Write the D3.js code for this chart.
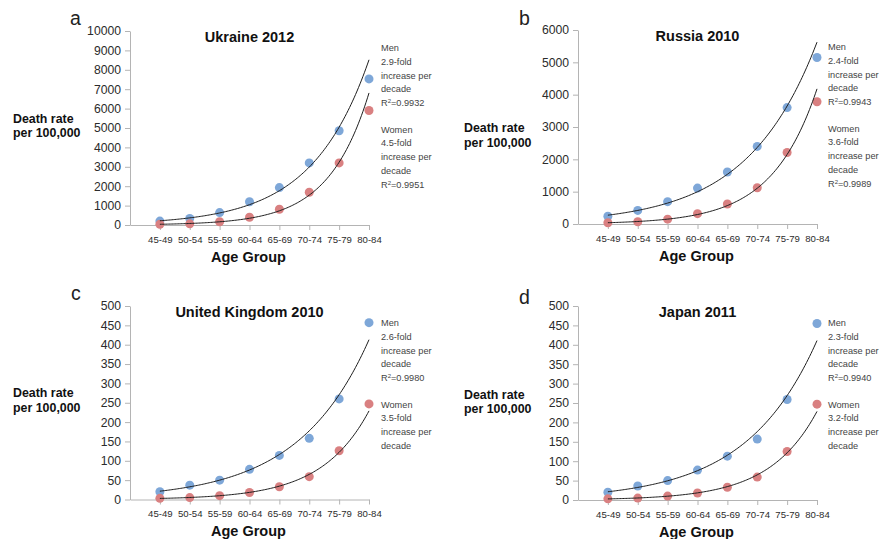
<!DOCTYPE html>
<html>
<head>
<meta charset="utf-8">
<script src="https://cdn.jsdelivr.net/npm/d3@7"></script>
<style>
  html, body { margin: 0; padding: 0; background: #fff; }
  svg { display: block; font-family: "Liberation Sans", Arial, Helvetica, sans-serif; }
</style>
</head>
<body>
<svg id="chart" width="880" height="539"></svg>
<script>
// Age groups on the horizontal axis
const categories = ["45-49", "50-54", "55-59", "60-64", "65-69", "70-74", "75-79", "80-84"];

// Death rates per 100,000 by age group
const ukraineMen   = [200, 340, 640, 1200, 1930, 3200, 4860, 7530];
const ukraineWomen = [40, 60, 170, 400, 810, 1690, 3200, 5900];
const russiaMen    = [240, 420, 690, 1110, 1610, 2400, 3600, 5150];
const russiaWomen  = [40, 70, 150, 320, 620, 1120, 2210, 3780];
const ukMen        = [20, 37, 50, 78, 114, 158, 260, 457];
const ukWomen      = [3, 5, 10, 18, 33, 59, 126, 247];
const japanMen     = [20, 36, 50, 77, 113, 157, 259, 455];
const japanWomen   = [3, 5, 10, 18, 33, 59, 125, 247];

// Vertical axis tick values
const ukraineTicks = [0, 1000, 2000, 3000, 4000, 5000, 6000, 7000, 8000, 9000, 10000];
const russiaTicks  = [0, 1000, 2000, 3000, 4000, 5000, 6000];
const ukTicks      = [0, 50, 100, 150, 200, 250, 300, 350, 400, 450, 500];
const japanTicks   = [0, 50, 100, 150, 200, 250, 300, 350, 400, 450, 500];

// Trend annotations (fold increase per decade, R²)
const ukraineMenNote   = { label: "Men",   fold: "2.9-fold", r2: "0.9932" };
const ukraineWomenNote = { label: "Women", fold: "4.5-fold", r2: "0.9951" };
const russiaMenNote    = { label: "Men",   fold: "2.4-fold", r2: "0.9943" };
const russiaWomenNote  = { label: "Women", fold: "3.6-fold", r2: "0.9989" };
const ukMenNote        = { label: "Men",   fold: "2.6-fold", r2: "0.9980" };
const ukWomenNote      = { label: "Women", fold: "3.5-fold", r2: null };
const japanMenNote     = { label: "Men",   fold: "2.3-fold", r2: "0.9940" };
const japanWomenNote   = { label: "Women", fold: "3.2-fold", r2: null };

// Panel layout
const panels = [
  { letter: "a", title: "Ukraine 2012", men: ukraineMen, women: ukraineWomen, ticks: ukraineTicks,
    menNote: ukraineMenNote, womenNote: ukraineWomenNote,
    frame: { x0: 130, x1: 369, top: 31, bottom: 225 }, letterAt: [70, 25], ylab: [13, 87.5], noteDx: 12 },
  { letter: "b", title: "Russia 2010", men: russiaMen, women: russiaWomen, ticks: russiaTicks,
    menNote: russiaMenNote, womenNote: russiaWomenNote,
    frame: { x0: 578, x1: 817, top: 30, bottom: 224 }, letterAt: [519, 25], ylab: [464, 97.7], noteDx: 11 },
  { letter: "c", title: "United Kingdom 2010", men: ukMen, women: ukWomen, ticks: ukTicks,
    menNote: ukMenNote, womenNote: ukWomenNote,
    frame: { x0: 130, x1: 369, top: 306, bottom: 499.5 }, letterAt: [71, 299.5], ylab: [13, 87], noteDx: 12 },
  { letter: "d", title: "Japan 2011", men: japanMen, women: japanWomen, ticks: japanTicks,
    menNote: japanMenNote, womenNote: japanWomenNote,
    frame: { x0: 578, x1: 817, top: 306, bottom: 500 }, letterAt: [519, 304], ylab: [464, 88.3], noteDx: 11 }
];

const menColor = "#7ea7d8";
const womenColor = "#d98081";
const axisColor = "#b4b4b4";
const textColor = "#2b2b2b";
const noteSize = 9.2;

// Least-squares exponential fit: ln(y) = a + b * index
function expFit(values) {
  const xs = values.map((_, i) => i);
  const ls = values.map(v => Math.log(v));
  const mx = d3.mean(xs), ml = d3.mean(ls);
  const sxy = d3.sum(xs, (xv, i) => (xv - mx) * (ls[i] - ml));
  const sxx = d3.sum(xs, xv => (xv - mx) * (xv - mx));
  const b = sxy / sxx;
  return { a: ml - b * mx, b };
}

const svg = d3.select("#chart");

panels.forEach(p => {
  const f = p.frame;
  const g = svg.append("g");
  const n = categories.length;

  const x = d3.scaleLinear().domain([0, n]).range([f.x0, f.x1]);
  const y = d3.scaleLinear().domain([0, d3.max(p.ticks)]).range([f.bottom, f.top]);
  const px = i => x(i + 1);

  // Y axis
  const ya = g.append("g")
    .attr("transform", `translate(${f.x0},0)`)
    .call(d3.axisLeft(y).tickValues(p.ticks).tickFormat(d3.format("d"))
      .tickSize(5).tickSizeOuter(0).tickPadding(4));
  ya.select(".domain").attr("stroke", axisColor);
  ya.selectAll(".tick line").attr("stroke", axisColor);
  ya.selectAll(".tick text").attr("font-size", 12.2).attr("fill", textColor)
    .attr("font-family", "Liberation Sans, Arial, sans-serif");

  // X axis
  const xa = g.append("g")
    .attr("transform", `translate(0,${f.bottom})`)
    .call(d3.axisBottom(x)
      .tickValues(d3.range(1, n + 1))
      .tickFormat(i => categories[i - 1])
      .tickSize(5).tickSizeOuter(0).tickPadding(6));
  xa.select(".domain").attr("stroke", axisColor);
  xa.selectAll(".tick line").attr("stroke", axisColor);
  xa.selectAll(".tick text").attr("font-size", 9.6).attr("fill", textColor)
    .attr("font-family", "Liberation Sans, Arial, sans-serif");

  // Points
  [[p.men, menColor], [p.women, womenColor]].forEach(([vals, col]) => {
    g.append("g").selectAll("circle").data(vals).join("circle")
      .attr("cx", (d, i) => px(i))
      .attr("cy", d => y(d))
      .attr("r", 4.5)
      .attr("fill", col);
  });

  // Exponential trend curves
  const steps = d3.range(0, n - 1 + 1e-9, 0.05);
  [p.men, p.women].forEach(vals => {
    const fit = expFit(vals);
    const line = d3.line()
      .x(t => x(t + 1))
      .y(t => y(Math.exp(fit.a + fit.b * t)));
    g.append("path").datum(steps)
      .attr("d", line)
      .attr("fill", "none")
      .attr("stroke", "#1e1e1e")
      .attr("stroke-width", 1);
  });

  // Panel letter
  g.append("text")
    .attr("x", p.letterAt[0]).attr("y", p.letterAt[1])
    .attr("font-size", 19.5).attr("fill", "#222")
    .text(p.letter);

  // Title
  g.append("text")
    .attr("x", (f.x0 + f.x1) / 2).attr("y", f.top + 5.8).attr("dy", "0.35em")
    .attr("text-anchor", "middle").attr("font-weight", "bold").attr("font-size", 14.5)
    .attr("fill", "#111")
    .text(p.title);

  // Axis titles
  g.append("text")
    .attr("x", (f.x0 + f.x1) / 2 - 1).attr("y", f.bottom + 31.5).attr("dy", "0.35em")
    .attr("text-anchor", "middle").attr("font-weight", "bold").attr("font-size", 14.5)
    .attr("fill", "#111")
    .text("Age Group");

  ["Death rate", "per 100,000"].forEach((s, i) => {
    g.append("text")
      .attr("x", p.ylab[0]).attr("y", f.top + p.ylab[1] + i * 14.5).attr("dy", "0.35em")
      .attr("font-weight", "bold").attr("font-size", 12.4).attr("fill", "#111")
      .text(s);
  });

  // Trend annotations
  const noteX = f.x1 + p.noteDx;
  const lineGap = 13.7;
  function drawNote(note, y0) {
    const lines = [note.label, note.fold, "increase per", "decade"];
    lines.forEach((s, i) => {
      g.append("text")
        .attr("x", noteX).attr("y", y0 + i * lineGap).attr("dy", "0.35em")
        .attr("font-size", noteSize).attr("fill", "#444")
        .text(s);
    });
    if (note.r2) {
      const t = g.append("text")
        .attr("x", noteX).attr("y", y0 + 4 * lineGap).attr("dy", "0.35em")
        .attr("font-size", noteSize).attr("fill", "#444");
      t.append("tspan").text("R");
      t.append("tspan").attr("font-size", 6).attr("dy", "-0.45em").text("2");
      t.append("tspan").attr("dy", "0.3em").text("=" + note.r2);
    }
  }
  drawNote(p.menNote, f.top + 17);
  drawNote(p.womenNote, f.top + 98.5);
});
</script>
</body>
</html>
